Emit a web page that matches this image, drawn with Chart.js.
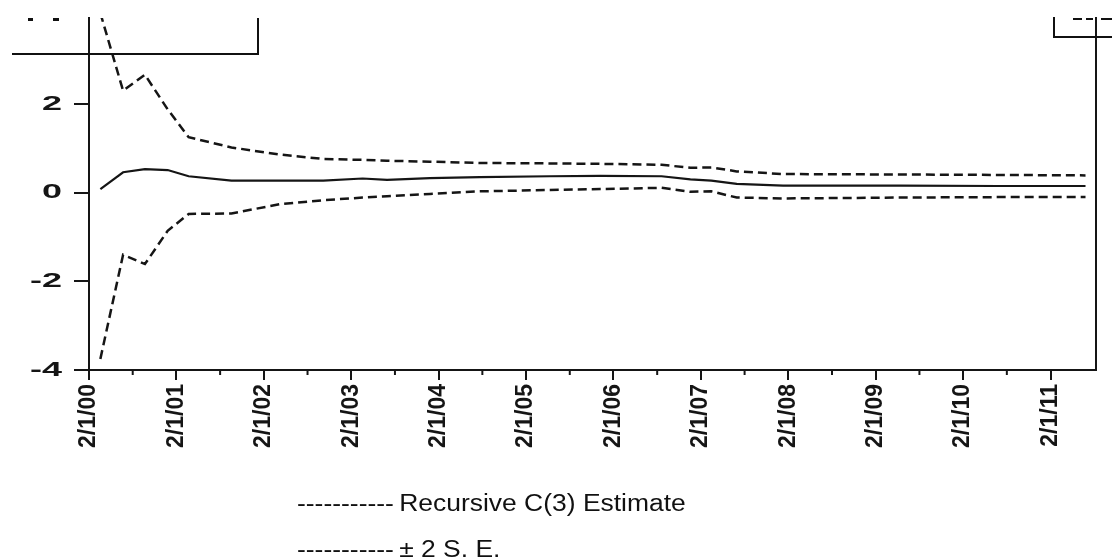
<!DOCTYPE html>
<html>
<head>
<meta charset="utf-8">
<script src="https://cdn.jsdelivr.net/npm/chart.js@4/dist/chart.umd.min.js"></script>
<style>
  html, body { margin:0; padding:0; background:#fff; }
  #wrap { position:relative; width:1112px; height:557px; overflow:hidden; background:#fff; }
  canvas { position:absolute; left:0; top:0; }
  .leg { position:absolute; left:297px; font-family:'Liberation Sans', Arial, sans-serif; font-size:23px; line-height:23px; color:#111; white-space:pre; transform:scaleX(1.15); transform-origin:0 0; }
  .ln { position:absolute; background:#111; }
</style>
</head>
<body>
<div id="wrap">
  <canvas id="c" width="1112" height="557"></canvas>
  <!-- cropped legend-box remnants at the top -->
  <div class="ln" style="left:12px; top:53px; width:247px; height:2px;"></div>
  <div class="ln" style="left:257px; top:18px; width:2px; height:37px;"></div>
  <div class="ln" style="left:28px; top:18px; width:5px; height:3px;"></div>
  <div class="ln" style="left:53px; top:18px; width:6px; height:3px;"></div>
  <div class="ln" style="left:1053px; top:17px; width:2px; height:21px;"></div>
  <div class="ln" style="left:1053px; top:36px; width:59px; height:2px;"></div>
  <div class="ln" style="left:1073px; top:18px; width:9px; height:2px;"></div>
  <div class="ln" style="left:1086px; top:18px; width:7px; height:2px;"></div>
  <div class="ln" style="left:1101px; top:18px; width:11px; height:2px;"></div>
  <div class="leg" style="top:492px;">-----------&#8201;Recursive C(3) Estimate</div>
  <div class="leg" style="top:538px;">-----------&#8201;± 2 S. E.</div>
</div>
<script>
// x positions in years after the first tick (2/1/00)
const periods  = [0.13, 0.39, 0.64, 0.90, 1.14, 1.63, 2.18, 2.68, 3.13, 3.41, 3.90, 4.47, 5.27, 5.85, 6.55, 6.88, 7.12, 7.41, 7.94, 9.28, 10.40, 11.40];
const estimate = [0.08, 0.46, 0.53, 0.51, 0.37, 0.27, 0.27, 0.27, 0.32, 0.29, 0.33, 0.35, 0.37, 0.38, 0.37, 0.30, 0.27, 0.20, 0.16, 0.16, 0.15, 0.15];
const upperSE  = [4.05, 2.30, 2.66, 1.88, 1.25, 1.02, 0.86, 0.76, 0.74, 0.72, 0.70, 0.67, 0.66, 0.65, 0.63, 0.56, 0.57, 0.48, 0.42, 0.41, 0.40, 0.39];
const lowerSE  = [-3.75, -1.40, -1.61, -0.86, -0.48, -0.47, -0.26, -0.17, -0.11, -0.08, -0.03, 0.03, 0.06, 0.08, 0.11, 0.02, 0.03, -0.11, -0.13, -0.11, -0.10, -0.10];
const tickLabels = ['2/1/00','2/1/01','2/1/02','2/1/03','2/1/04','2/1/05','2/1/06','2/1/07','2/1/08','2/1/09','2/1/10','2/1/11'];
const yTicks = [-4, -2, 0, 2];

const ink = '#151515';
const toXY = arr => arr.map((v, i) => ({x: periods[i], y: v}));

const extras = {
  id: 'extras',
  afterDraw(chart) {
    const xs = chart.scales.x, ys = chart.scales.y, ctx = chart.ctx;
    ctx.save();
    // minor ticks on the time axis
    ctx.strokeStyle = ink; ctx.lineWidth = 2;
    for (let i = 0; i < tickLabels.length - 1; i++) {
      const px = xs.getPixelForValue(i + 0.5);
      ctx.beginPath(); ctx.moveTo(px, xs.top); ctx.lineTo(px, xs.top + 5); ctx.stroke();
    }
    // wide value-axis labels (scanned look)
    ctx.fillStyle = ink;
    ctx.font = 'bold 20px "Liberation Sans"';
    ctx.textAlign = 'right'; ctx.textBaseline = 'middle';
    ys.ticks.forEach(t => {
      const py = ys.getPixelForValue(t.value);
      ctx.save();
      ctx.translate(62, py);
      ctx.scale(1.8, 1);
      ctx.fillText(String(t.value), 0, 0);
      ctx.restore();
    });
    ctx.restore();
  }
};

new Chart(document.getElementById('c'), {
  type: 'line',
  data: {
    datasets: [
      { label: 'Recursive C(3) Estimate', data: toXY(estimate), borderColor: ink, borderWidth: 2.2, pointRadius: 0, tension: 0 },
      { label: '± 2 S. E.', data: toXY(upperSE), borderColor: ink, borderWidth: 2.5, borderDash: [9, 5], pointRadius: 0, tension: 0 },
      { label: '± 2 S. E. (lower)', data: toXY(lowerSE), borderColor: ink, borderWidth: 2.5, borderDash: [9, 5], pointRadius: 0, tension: 0 }
    ]
  },
  options: {
    responsive: false,
    animation: false,
    layout: { padding: { top: 18, right: 16, left: 0, bottom: 0 } },
    plugins: { legend: { display: false }, tooltip: { enabled: false } },
    scales: {
      x: {
        type: 'linear', min: 0, max: 11.52,
        afterBuildTicks: s => { s.ticks = tickLabels.map((_, i) => ({ value: i })); },
        afterFit: s => { s.height = 187; },
        grid: { drawOnChartArea: false, drawTicks: true, tickLength: 10, color: ink, lineWidth: 2 },
        border: { color: ink, width: 2 },
        ticks: {
          autoSkip: false, maxRotation: 90, minRotation: 90, padding: 4,
          color: ink, font: { family: 'Liberation Sans', size: 23, weight: 'bold' },
          callback: v => tickLabels[Math.round(v)]
        }
      },
      y: {
        min: -4, max: 3.94,
        afterBuildTicks: s => { s.ticks = yTicks.map(v => ({ value: v })); },
        afterFit: s => { s.width = 89; },
        grid: { drawOnChartArea: false, drawTicks: true, tickLength: 15, color: ink, lineWidth: 2 },
        border: { color: ink, width: 2 },
        ticks: { display: false }
      },
      y2: {
        position: 'right', min: -4, max: 3.94,
        afterFit: s => { s.width = 0; },
        grid: { display: false },
        border: { display: true, color: ink, width: 2 },
        ticks: { display: false }
      }
    }
  },
  plugins: [extras]
});
</script>
</body>
</html>
